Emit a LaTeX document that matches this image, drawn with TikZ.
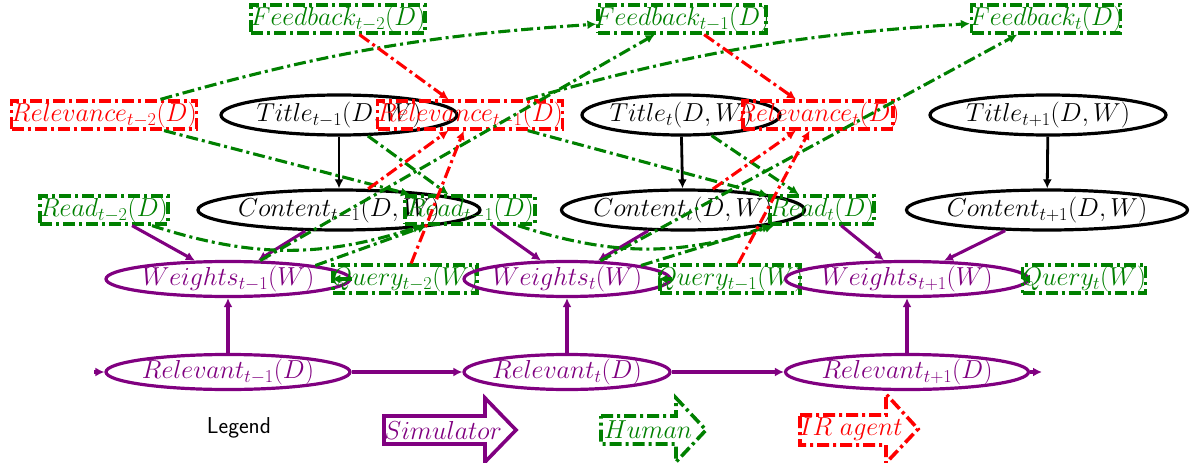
\documentclass[tikz,border=0pt]{standalone}
\usepackage{fix-cm}
\usetikzlibrary{arrows.meta,shapes.geometric}
\definecolor{hgreen}{RGB}{0,128,0}
\definecolor{simpurple}{RGB}{128,0,128}
\definecolor{irred}{RGB}{255,0,0}
\begin{document}
\begin{tikzpicture}[x=1pt,y=-1pt,
  every node/.style={font=\fontsize{26}{30}\selectfont},
  dd/.style={dash pattern=on 12pt off 4pt on 3pt off 4pt},
  boxbase/.style={rectangle, inner xsep=-200pt, inner ysep=-50pt, minimum height=28pt, line width=3.2pt, dd},
  humbox/.style={boxbase, draw=hgreen, text=hgreen},
  irbox/.style={boxbase, draw=irred, text=irred},
  ellbase/.style={ellipse, inner xsep=-200pt, inner ysep=-50pt, line width=3.2pt},
  obsell/.style={ellbase, draw=black, minimum height=40pt},
  simell/.style={ellbase, draw=simpurple, text=simpurple, minimum height=35pt},
  tip/.style={-{Latex[length=9pt,width=9pt]}},
  blk/.style={tip, draw=black, line width=2.8pt},
  simarr/.style={tip, draw=simpurple, line width=3.1pt},
  humarr/.style={tip, draw=hgreen, dd, line width=3.1pt},
  irarr/.style={tip, draw=irred, dd, line width=3.1pt},
  legshape/.style={line width=3.6pt, line join=miter},
]
\useasboundingbox (0,0) rectangle (1199,463);

% row 1: feedback
\node[humbox, minimum width=174pt] (FB2) at (338,19) {$Feedback_{t-2}(D)$};
\node[humbox, minimum width=168pt] (FB1) at (682,19) {$Feedback_{t-1}(D)$};
\node[humbox, minimum width=149pt] (FB0) at (1046,19) {$Feedback_{t}(D)$};

% row 2: relevance / title
\node[irbox, minimum width=185pt] (RV2) at (104,115) {$Relevance_{t-2}(D)$};
\node[obsell, minimum width=236pt] (T1) at (339,115) {$Title_{t-1}(D,W)$};
\node[irbox, minimum width=185pt] (RV1) at (470,115) {$Relevance_{t-1}(D)$};
\node[obsell, minimum width=198pt] (T0) at (681,115) {$Title_{t}(D,W)$};
\node[irbox, minimum width=150pt] (RV0) at (818,115) {$Relevance_{t}(D)$};
\node[obsell, minimum width=236pt] (Tp) at (1048,115) {$Title_{t+1}(D,W)$};

% row 3: read / content
\node[humbox, minimum width=128pt] (RD2) at (104,210) {$Read_{t-2}(D)$};
\node[obsell, minimum width=282pt] (C1) at (339,210) {$Content_{t-1}(D,W)$};
\node[humbox, minimum width=130pt] (RD1) at (470,210) {$Read_{t-1}(D)$};
\node[obsell, minimum width=243pt] (C0) at (683,210) {$Content_{t}(D,W)$};
\node[humbox, minimum width=104pt] (RD0) at (822,210) {$Read_{t}(D)$};
\node[obsell, minimum width=281pt] (Cp) at (1047,210) {$Content_{t+1}(D,W)$};

% row 4: weights / query
\node[simell, minimum width=244pt] (W1) at (228,279) {$Weights_{t-1}(W)$};
\node[humbox, minimum width=144pt] (Q2) at (405,279) {$Query_{t-2}(W)$};
\node[simell, minimum width=206pt] (W0) at (567,279) {$Weights_{t}(W)$};
\node[humbox, minimum width=140pt] (Q1) at (730,279) {$Query_{t-1}(W)$};
\node[simell, minimum width=243pt] (Wp) at (907,279) {$Weights_{t+1}(W)$};
\node[humbox, minimum width=123pt] (Q0) at (1084,279) {$Query_{t}(W)$};

% row 5: relevant
\node[simell, minimum width=244pt] (RL1) at (228,372) {$Relevant_{t-1}(D)$};
\node[simell, minimum width=206pt] (RL0) at (567,372) {$Relevant_{t}(D)$};
\node[simell, minimum width=243pt] (RLp) at (907,372) {$Relevant_{t+1}(D)$};
\coordinate (lin) at (94,372);
\coordinate (rout) at (1042,372);

% black edges
\draw[blk] (T1) -- (C1);
\draw[blk] (T0) -- (C0);
\draw[blk] (Tp) -- (Cp);

% simulator edges
\draw[simarr] (C1) -- (W1);
\draw[simarr] (RD2) -- (W1);
\draw[simarr] (C0) -- (W0);
\draw[simarr] (RD1) -- (W0);
\draw[simarr] (Cp) -- (Wp);
\draw[simarr] (RD0) -- (Wp);
\draw[simarr] (RL1) -- (W1);
\draw[simarr] (RL0) -- (W0);
\draw[simarr] (RLp) -- (Wp);
\draw[simarr] (lin) -- (RL1);
\draw[simarr] (RL1) -- (RL0);
\draw[simarr] (RL0) -- (RLp);
\draw[simarr] (RLp) -- (rout);

% human edges
\draw[humarr] (RV2) to[bend left=6] (FB1);
\draw[humarr] (RV1) to[bend left=6] (FB0);
\draw[humarr] (RV2) -- (RD1);
\draw[humarr] (RV1) -- (RD0);
\draw[humarr] (T1) -- (RD1);
\draw[humarr] (T0) -- (RD0);
\draw[humarr] (RD2) to[bend right=18] (RD1);
\draw[humarr] (RD1) to[bend right=18] (RD0);
\draw[humarr] (W1) -- (FB1);
\draw[humarr] (W0) -- (FB0);
\draw[humarr] (W1.north east) -- (RD1);
\draw[humarr] (W0.north east) -- (RD0);
\draw[humarr] (W1) -- (Q2);
\draw[humarr] (W0) -- (Q1);
\draw[humarr] (Wp) -- (Q0);

% IR agent edges
\draw[irarr] (FB2) -- (RV1);
\draw[irarr] (C1) -- (RV1);
\draw[irarr] (Q2) -- (RV1);
\draw[irarr] (FB1) -- (RV0);
\draw[irarr] (C0) -- (RV0);
\draw[irarr] (Q1) -- (RV0);

% legend
\node[font=\fontsize{23}{27}\sffamily] (leg) at (239,428) {Legend};
\draw[legshape, draw=simpurple] (384,416) -- (485,416) -- (485,398) -- (516,430) -- (485,462) -- (485,444) -- (384,444) -- cycle;
\node[text=simpurple] (simlab) at (443,430) {$Simulator$};
\draw[legshape, draw=hgreen, dd] (601,416) -- (676,416) -- (676,398) -- (706,430) -- (676,462) -- (676,444) -- (601,444) -- cycle;
\node[text=hgreen] (humlab) at (648,430) {$Human$};
\draw[legshape, draw=irred, dd] (800,415) -- (886,415) -- (886,394) -- (918,429) -- (886,463) -- (886,445) -- (800,445) -- cycle;
\node[text=irred] (irlab) at (851,429) {$IR\ agent$};
\end{tikzpicture}
\end{document}
